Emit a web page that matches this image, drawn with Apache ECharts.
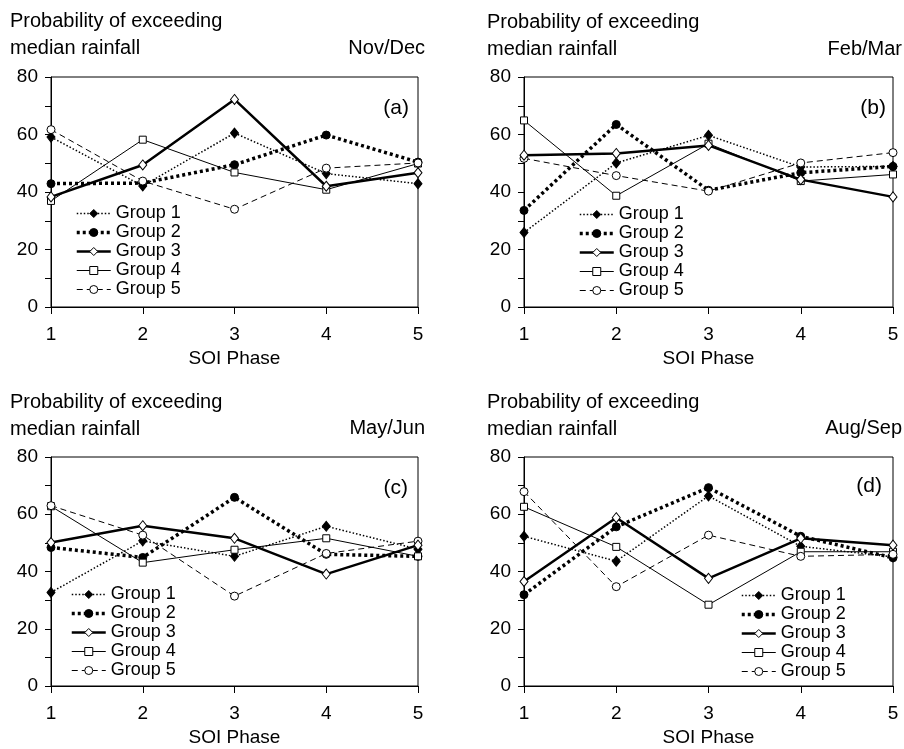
<!DOCTYPE html>
<html>
<head>
<meta charset="utf-8">
<script src="https://cdn.jsdelivr.net/npm/echarts@6/dist/echarts.min.js"></script>
<style>
  html, body { margin: 0; padding: 0; background: #fff; }
  #chart { width: 904px; height: 749px; }
</style>
</head>
<body>
<div id="chart"></div>
<script>
// SOI phases on the x axis
const soiPhases = ['1', '2', '3', '4', '5'];
const groupNames = ['Group 1', 'Group 2', 'Group 3', 'Group 4', 'Group 5'];
const yMin = 0, yMax = 80, yStep = 20;

// (a) Nov/Dec — probability (%) of exceeding median rainfall
const novDecG1 = [59.1, 42.1, 60.5, 46.4, 42.9];
const novDecG2 = [42.9, 43.1, 49.5, 59.8, 50.4];
const novDecG3 = [38.3, 49.4, 72.2, 42.0, 46.7];
const novDecG4 = [36.9, 58.2, 46.8, 40.8, 49.9];
const novDecG5 = [61.7, 43.8, 34.0, 48.3, 50.1];

// (b) Feb/Mar
const febMarG1 = [25.9, 50.1, 59.7, 48.7, 48.9];
const febMarG2 = [33.6, 63.5, 40.6, 46.7, 48.9];
const febMarG3 = [52.8, 53.4, 56.2, 44.3, 38.3];
const febMarG4 = [64.9, 38.7, 56.8, 43.8, 46.1];
const febMarG5 = [51.7, 45.7, 40.3, 50.1, 53.7];

// (c) May/Jun
const mayJunG1 = [32.7, 50.7, 45.3, 55.8, 47.8];
const mayJunG2 = [48.4, 44.9, 65.9, 46.0, 45.3];
const mayJunG3 = [50.1, 56.0, 51.6, 39.1, 49.2];
const mayJunG4 = [62.8, 43.1, 47.6, 51.6, 45.3];
const mayJunG5 = [63.0, 52.7, 31.4, 46.3, 50.6];

// (d) Aug/Sep
const augSepG1 = [52.3, 43.6, 66.4, 48.8, 45.1];
const augSepG2 = [31.9, 55.6, 69.3, 52.3, 44.8];
const augSepG3 = [36.5, 58.8, 37.6, 51.6, 49.2];
const augSepG4 = [62.6, 48.6, 28.4, 46.9, 46.9];
const augSepG5 = [67.9, 34.7, 52.7, 45.3, 46.0];

const panelSeries = [
  [novDecG1, novDecG2, novDecG3, novDecG4, novDecG5],
  [febMarG1, febMarG2, febMarG3, febMarG4, febMarG5],
  [mayJunG1, mayJunG2, mayJunG3, mayJunG4, mayJunG5],
  [augSepG1, augSepG2, augSepG3, augSepG4, augSepG5]
];
const seasons = ['Nov/Dec', 'Feb/Mar', 'May/Jun', 'Aug/Sep'];
const panelTags = ['(a)', '(b)', '(c)', '(d)'];

const FONT = "'Liberation Sans', Arial, sans-serif";

// layout of the four panels
const panels = [
  { grid: { left: 51,  top: 77,  width: 367, height: 230 }, titleX: 10,  titleY: 8,   seasonRight: 479, seasonY: 35,  tagRight: 495, tagY: 96,  legend: { left: 75,  top: 204 } },
  { grid: { left: 524, top: 77,  width: 369, height: 230 }, titleX: 487, titleY: 9,   seasonRight: 2,   seasonY: 36,  tagRight: 18,  tagY: 96,  legend: { left: 578, top: 205 } },
  { grid: { left: 51,  top: 457, width: 367, height: 229 }, titleX: 10,  titleY: 389, seasonRight: 479, seasonY: 415, tagRight: 496, tagY: 476, legend: { left: 70,  top: 585 } },
  { grid: { left: 524, top: 457, width: 369, height: 229 }, titleX: 487, titleY: 389, seasonRight: 2,   seasonY: 415, tagRight: 22,  tagY: 474, legend: { left: 740, top: 586 } }
];

// line and marker style of each group
const groupStyles = [
  { symbol: 'diamond', symbolSize: [8, 10], fill: '#000', width: 1.5, type: [1.5, 2] },
  { symbol: 'circle',  symbolSize: 8,       fill: '#000', width: 3.5, type: [3, 3] },
  { symbol: 'diamond', symbolSize: [8, 10], fill: '#fff', width: 2.5, type: 'solid' },
  { symbol: 'rect',    symbolSize: 7,       fill: '#fff', width: 1,   type: 'solid' },
  { symbol: 'circle',  symbolSize: 8,       fill: '#fff', width: 1,   type: [6, 4] }
];

// legend entries carry the same stroke as their series
const legendItems = groupNames.map((name, g) => ({
  name: name,
  itemStyle: { color: groupStyles[g].fill, borderColor: '#000', borderWidth: 1 },
  lineStyle: { color: '#000', width: groupStyles[g].width, type: groupStyles[g].type }
}));

const grids = [], xAxes = [], yAxes = [], series = [], titles = [], legends = [];

panels.forEach((p, i) => {
  grids.push(Object.assign({ show: true, borderColor: '#000', borderWidth: 1, backgroundColor: 'transparent' }, p.grid));

  xAxes.push({
    gridIndex: i,
    type: 'category',
    data: soiPhases,
    boundaryGap: false,
    name: 'SOI Phase',
    nameLocation: 'middle',
    nameGap: 42,
    nameTextStyle: { fontFamily: FONT, fontSize: 19, color: '#000', verticalAlign: 'top' },
    axisLine: { show: true, lineStyle: { color: '#000', width: 1 } },
    axisTick: { show: true, length: 7, inside: false, lineStyle: { color: '#000' } },
    axisLabel: { fontFamily: FONT, fontSize: 19, color: '#000', margin: 18 },
    splitLine: { show: false }
  });

  yAxes.push({
    gridIndex: i,
    type: 'value',
    min: yMin,
    max: yMax,
    interval: yStep,
    axisLine: { show: true, lineStyle: { color: '#000', width: 1 } },
    axisTick: { show: true, length: 6, lineStyle: { color: '#000' } },
    minorTick: { show: true, splitNumber: 2, length: 6, lineStyle: { color: '#000' } },
    axisLabel: { fontFamily: FONT, fontSize: 19, color: '#000', margin: 13 },
    splitLine: { show: false }
  });

  panelSeries[i].forEach((vals, g) => {
    const st = groupStyles[g];
    series.push({
      name: groupNames[g],
      type: 'line',
      xAxisIndex: i,
      yAxisIndex: i,
      data: vals,
      symbol: st.symbol,
      symbolSize: st.symbolSize,
      showAllSymbol: true,
      animation: false,
      itemStyle: { color: st.fill, borderColor: '#000', borderWidth: 1 },
      lineStyle: { color: '#000', width: st.width, type: st.type },
      emphasis: { disabled: true },
      z: 2 + (g === 2 ? 1 : 0)
    });
  });

  titles.push({
    text: 'Probability of exceeding\nmedian rainfall',
    left: p.titleX,
    top: p.titleY,
    padding: 0,
    textStyle: { fontFamily: FONT, fontSize: 20, fontWeight: 'normal', color: '#000', lineHeight: 27 }
  });
  titles.push({
    text: seasons[i],
    right: p.seasonRight,
    top: p.seasonY,
    padding: 0,
    textStyle: { fontFamily: FONT, fontSize: 20, fontWeight: 'normal', color: '#000', lineHeight: 27 }
  });
  titles.push({
    text: panelTags[i],
    right: p.tagRight,
    top: p.tagY,
    padding: 0,
    textStyle: { fontFamily: FONT, fontSize: 21, fontWeight: 'normal', color: '#000', lineHeight: 24 }
  });

  legends.push({
    data: legendItems,
    orient: 'vertical',
    left: p.legend.left,
    top: p.legend.top,
    padding: 0,
    itemGap: 0,
    itemWidth: 34,
    itemHeight: 10,
    selectedMode: false,
    textStyle: { fontFamily: FONT, fontSize: 18, color: '#000', lineHeight: 19 }
  });
});

const chart = echarts.init(document.getElementById('chart'), null, { renderer: 'canvas' });
chart.setOption({
  backgroundColor: '#fff',
  animation: false,
  title: titles,
  legend: legends,
  grid: grids,
  xAxis: xAxes,
  yAxis: yAxes,
  series: series
});
</script>
</body>
</html>
